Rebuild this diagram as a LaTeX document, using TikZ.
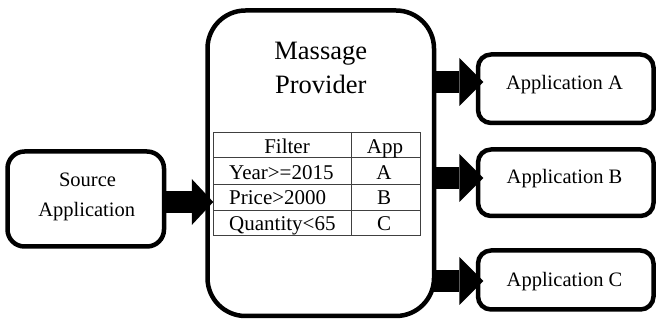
\documentclass[tikz,border=0pt]{standalone}
\usepackage{fontspec}
\setmainfont{Liberation Serif}
\usetikzlibrary{arrows.meta}
\tikzset{
  box/.style={draw=black, line width=4.5pt, fill=white, inner sep=0pt, outer sep=0pt},
  blk/.style={draw=black, line width=22pt, -{Triangle[length=24pt,width=48pt,line width=0pt]}},
  tbl/.style={draw=black!75, line width=0.9pt},
  lbl/.style={anchor=base, inner sep=0pt, font=\fontsize{20.5}{24}\selectfont},
  ttl/.style={anchor=base, inner sep=0pt, font=\fontsize{26.5}{32}\selectfont},
  cell/.style={anchor=base, inner sep=0pt, font=\fontsize{21}{24}\selectfont},
}
\begin{document}
\begin{tikzpicture}[x=1pt,y=-1pt]
\useasboundingbox (0,0) rectangle (656,320);
% boxes
\node[box, rounded corners=38pt, minimum width=226.5pt, minimum height=305.5pt] (main) at (320.75,163.25) {};
\node[box, rounded corners=17pt, minimum width=156.5pt, minimum height=95pt] (src) at (85.75,199) {};
\node[box, rounded corners=13pt, minimum width=175.5pt, minimum height=68.5pt] (appA) at (565.75,88.75) {};
\node[box, rounded corners=13pt, minimum width=175.5pt, minimum height=66.5pt] (appB) at (565.75,182.75) {};
\node[box, rounded corners=13pt, minimum width=175.5pt, minimum height=59pt] (appC) at (565.75,280) {};
% arrows
\coordinate (tS) at (213.3,202);
\coordinate (tA) at (483.3,82);
\coordinate (tB) at (483.3,178);
\coordinate (tC) at (483.3,281);
\draw[blk, -{Triangle[length=21.5pt,width=46pt,line width=0pt]}] (src.east |- tS) -- (tS);
\draw[blk] (main.east |- tA) -- (tA);
\draw[blk] (main.east |- tB) -- (tB);
\draw[blk] (main.east |- tC) -- (tC);
% texts
\node[ttl] (t1) at (320.75,59.3) {Massage};
\node[ttl] (t2) at (320.75,93.3) {Provider};
\node[lbl] (s1) at (87.5,186.7) {Source};
\node[lbl] (s2) at (86.7,216.7) {Application};
\node[lbl] (la) at (564.5,90) {Application A};
\node[lbl] (lb) at (564.5,184) {Application B};
\node[lbl] (lc) at (564.5,286.5) {Application C};
% table
\draw[tbl] (213.3,132.7) rectangle (420,235.7);
\draw[tbl] (213.3,157.7) -- (420,157.7);
\draw[tbl] (213.3,184) -- (420,184);
\draw[tbl] (213.3,210) -- (420,210);
\draw[tbl] (351.7,132.7) -- (351.7,235.7);
\node[cell] (h1) at (287,153.3) {Filter};
\node[cell] (h2) at (385,153.3) {App};
\node[cell, anchor=base west] (r1) at (229,179.3) {Year>=2015};
\node[cell, anchor=base west] (r2) at (229,204.8) {Price>2000};
\node[cell, anchor=base west] (r3) at (229,230.5) {Quantity<65};
\node[cell] (c1) at (384,179.3) {A};
\node[cell] (c2) at (384,204.8) {B};
\node[cell] (c3) at (384,230.5) {C};
\end{tikzpicture}
\end{document}
